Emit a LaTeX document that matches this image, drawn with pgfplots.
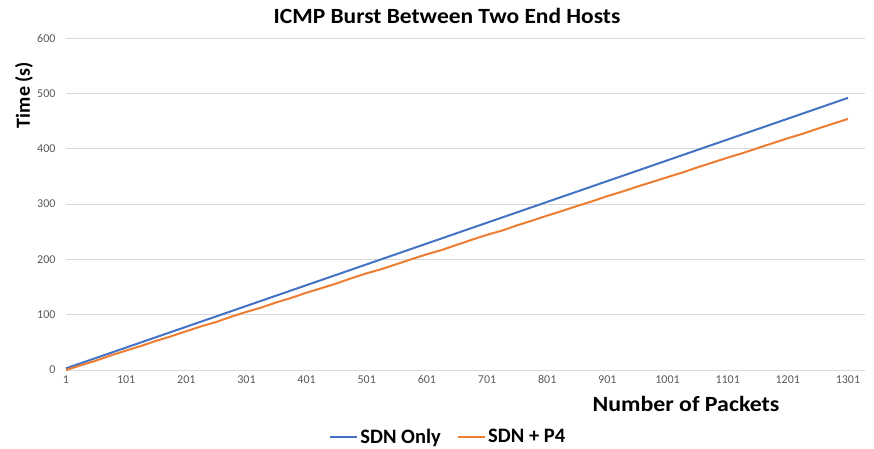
\documentclass[border=0pt]{standalone}
\usepackage{pgfplots}
\pgfplotsset{compat=1.18}
\usepackage{fontspec}
\setmainfont{Carlito}
\definecolor{sdnblue}{HTML}{4472C4}
\definecolor{sdnorange}{HTML}{ED7D31}
\definecolor{gridgray}{HTML}{D9D9D9}
\definecolor{ticktxt}{HTML}{595959}
\begin{document}
\begin{tikzpicture}[x=1pt,y=1pt]
\useasboundingbox (0,0) rectangle (874,448);
\begin{axis}[
  at={(66pt,78pt)}, anchor=south west,
  scale only axis, width=799.4pt, height=332pt,
  xmin=1, xmax=1330, ymin=0, ymax=600,
  xtick={1,101,201,301,401,501,601,701,801,901,1001,1101,1201,1301},
  ytick={0,100,200,300,400,500,600},
  ymajorgrids, grid style={gridgray, line width=0.8pt},
  axis x line*=bottom, axis y line*=left,
  y axis line style={draw=none},
  x axis line style={gridgray, line width=0.8pt, -},
  tick style={draw=none},
  /pgf/number format/assume math mode=true,
  /pgf/number format/1000 sep={},
  tick label style={font=\fontsize{12}{14}\selectfont, text=ticktxt},
  yticklabel style={xshift=-7pt},
  xticklabel style={yshift=-2pt},
  legend columns=2,
  legend style={at={(0.478,-0.2018)}, anchor=center, draw=none, fill=none,
    nodes={font=\fontsize{20.5}{22}\selectfont\bfseries, inner sep=2pt},
    /tikz/every even column/.append style={column sep=14pt}},
  legend image code/.code={\draw[#1, line width=2.4pt] (0pt,0pt) -- (27pt,0pt);},
  clip=false,
]
\addplot[sdnblue, line width=2pt] coordinates {
(1,3.0)(26,12.4)(51,21.8)(76,31.2)(101,40.6)(126,50.0)(151,59.4)(176,68.8)(201,78.2)(226,87.6)(251,97.0)(276,106.4)(301,115.8)(326,125.2)(351,134.6)(376,144.0)(401,153.4)(426,162.8)(451,172.2)(476,181.6)(501,191.0)(526,200.4)(551,209.8)(576,219.2)(601,228.6)(626,238.0)(651,247.4)(676,256.8)(701,266.2)(726,275.6)(751,285.0)(776,294.4)(801,303.8)(826,313.2)(851,322.6)(876,332.0)(901,341.4)(926,350.8)(951,360.2)(976,369.6)(1001,379.0)(1026,388.4)(1051,397.8)(1076,407.2)(1101,416.6)(1126,426.0)(1151,435.4)(1176,444.8)(1201,454.2)(1226,463.6)(1251,473.0)(1276,482.4)(1301,491.8)
};
\addlegendentry{\bfseries SDN Only}
\addplot[sdnorange, line width=2pt] coordinates {
(1,0.0)(26,8.5)(51,17.0)(76,26.5)(101,35.2)(126,43.5)(151,52.8)(176,61.0)(201,70.2)(226,79.0)(251,86.8)(276,96.5)(301,105.0)(326,113.0)(351,122.3)(376,130.5)(401,139.8)(426,148.0)(451,156.5)(476,166.0)(501,174.8)(526,182.5)(551,191.5)(576,200.5)(601,209.2)(626,217.0)(651,226.3)(676,235.5)(701,244.3)(726,252.0)(751,261.5)(776,270.0)(801,279.0)(826,287.5)(851,296.5)(876,305.0)(901,314.3)(926,322.5)(951,331.5)(976,340.0)(1001,348.6)(1026,357.0)(1051,366.3)(1076,375.0)(1101,383.8)(1126,392.0)(1151,401.0)(1176,410.0)(1201,418.8)(1226,427.0)(1251,436.3)(1276,445.0)(1301,453.8)
};
\addlegendentry{\bfseries SDN + P4}
\end{axis}
\node[font=\fontsize{21.7}{24}\selectfont\bfseries, xscale=1.08] at (447,432) {ICMP Burst Between Two End Hosts};
\node[font=\fontsize{20}{24}\selectfont\bfseries, rotate=90] at (24,353) {Time (s)};
\node[font=\fontsize{21.7}{24}\selectfont\bfseries, xscale=1.1] at (686,44) {Number of Packets};
\end{tikzpicture}
\end{document}
